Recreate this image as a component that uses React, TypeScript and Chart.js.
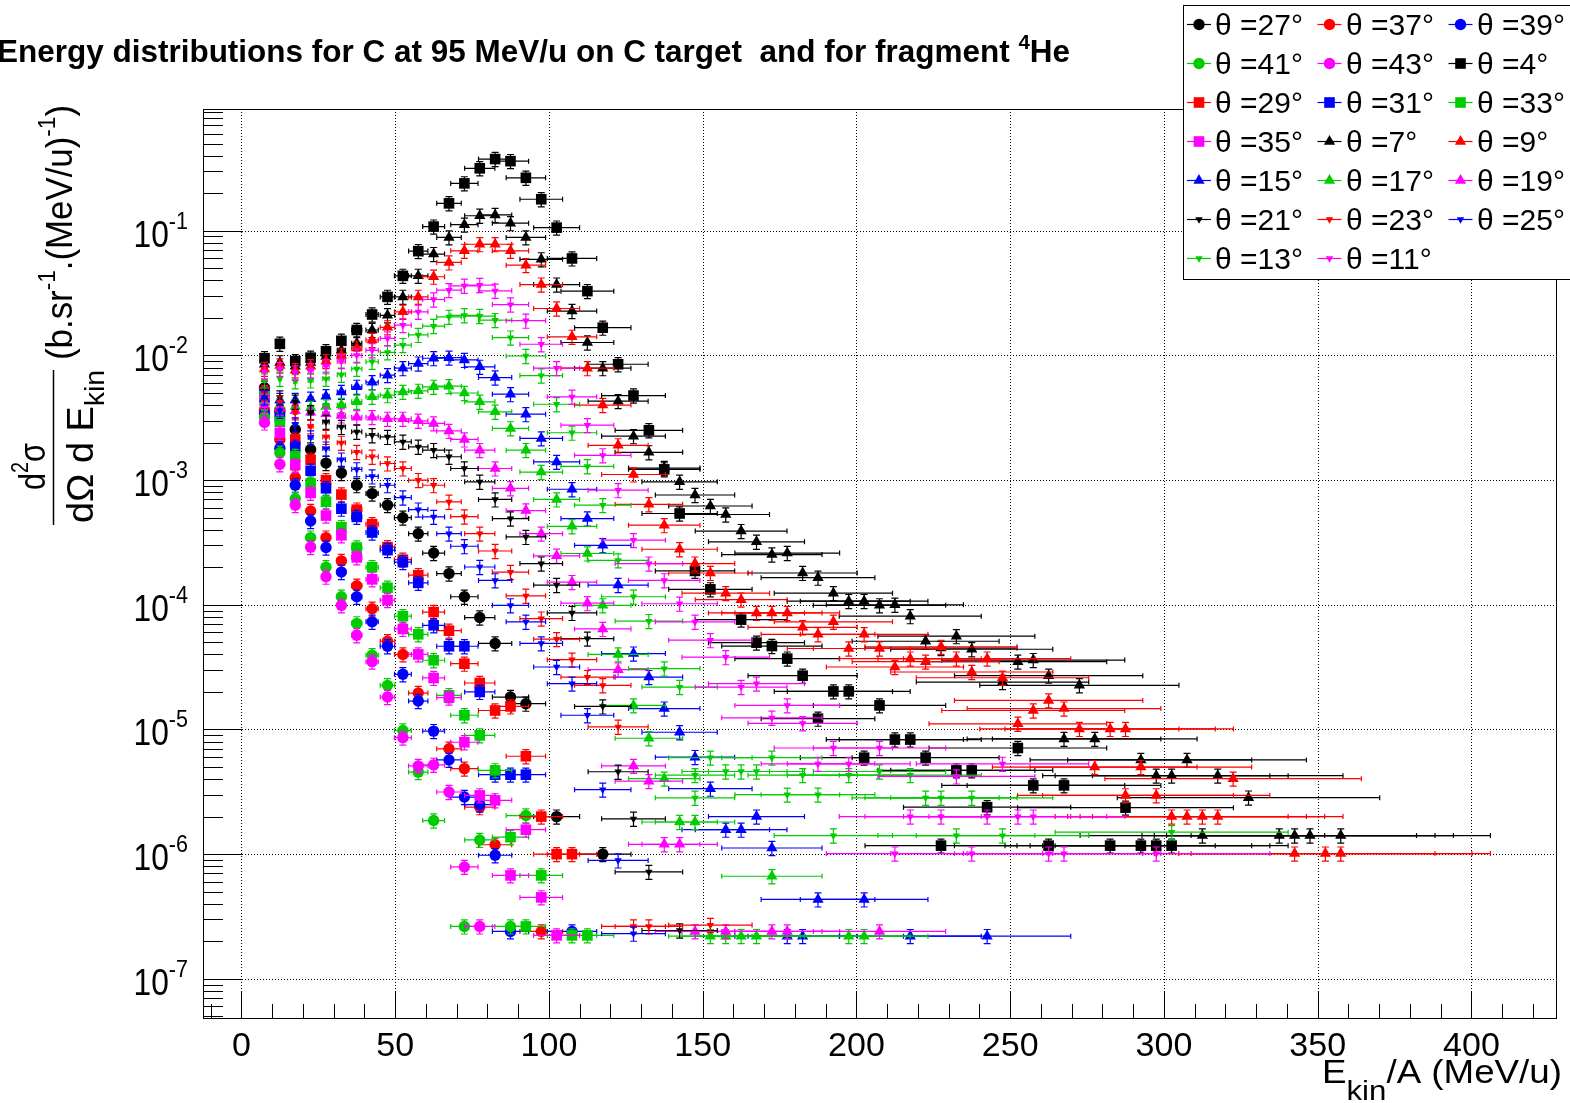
import React, { useEffect, useRef } from "react";
import { Chart, registerables } from "chart.js";

Chart.register(...registerables);

type Pt = [number, number];
type Marker = "circle" | "rect" | "triangle" | "down";

const BLACK = "#000000";
const RED = "#ff0000";
const BLUE = "#0000ff";
const GREEN = "#00cc00";
const MAGENTA = "#ff00ff";

const X_MIN = -12.5;
const X_MAX = 427.5;
const Y_MIN = 4.85e-8;
const Y_MAX = 0.948;

const xTickValues = [0, 50, 100, 150, 200, 250, 300, 350, 400];
const xTickLabels = ["0", "50", "100", "150", "200", "250", "300", "350", "400"];
const yTickExponents = [-7, -6, -5, -4, -3, -2, -1];
const yTickExpLabels = ["-7", "-6", "-5", "-4", "-3", "-2", "-1"];

// energy bin centres (MeV/u) and the half-widths of the horizontal error bars
const energyBinCenters = [
  7.5, 12.5, 17.5, 22.5, 27.5, 32.5, 37.5, 42.5, 47.5, 52.5, 57.5, 62.5, 67.5, 72.5, 77.5, 82.5, 87.5, 92.5,
  97.5, 102.5, 107.5, 112.5, 117.5, 122.5, 127.5, 132.5, 137.5, 142.5, 147.5, 152.5, 157.5, 162.5, 167.5,
  172.5, 177.5, 182.5, 187.5, 192.5, 197.5, 202.5, 207.5, 212.5, 217.5, 222.5, 227.5, 232.5, 237.5, 242.5,
  247.5, 252.5, 257.5, 262.5, 267.5, 272.5, 277.5, 282.5, 287.5, 292.5, 297.5, 302.5, 307.5, 312.5, 317.5,
  322.5, 327.5, 332.5, 337.5, 342.5, 347.5, 352.5, 357.5,
];
const energyHalfWidths = [
  0.15, 0.32, 0.53, 0.77, 1.04, 1.33, 1.65, 2.0, 2.36, 2.74, 3.14, 3.56, 3.99, 4.44, 4.91, 5.4, 5.89, 6.41,
  6.93, 7.47, 8.03, 8.59, 9.17, 9.76, 10.37, 10.98, 11.61, 12.25, 12.9, 13.56, 14.23, 14.92, 15.61,
  16.31, 17.03, 17.75, 18.49, 19.23, 19.98, 20.75, 21.52, 22.3, 23.09, 23.9, 24.71, 25.52, 26.35, 27.19,
  28.03, 28.89, 29.75, 30.62, 31.5, 32.39, 33.28, 34.19, 35.1, 36.02, 36.94, 37.88, 38.82, 39.77, 40.73,
  41.7, 42.67, 43.66, 44.64, 45.64, 46.64, 47.65, 48.67,
];
const yRelativeError = 0.13;

const theta4: Pt[] = [[7.5,9.5e-3],[12.5,1.24e-2],[17.5,9.0e-3],[22.5,9.6e-3],[27.5,1.08e-2],[32.5,1.31e-2],[37.5,1.6e-2],[42.5,2.13e-2],[47.5,2.95e-2],[52.5,4.35e-2],[57.5,6.87e-2],[62.5,0.108],[67.5,0.166],[72.5,0.24],[77.5,0.317],[82.5,0.376],[87.5,0.362],[92.5,0.266],[97.5,0.179],[102.5,0.106],[107.5,0.06],[112.5,3.28e-2],[117.5,1.67e-2],[122.5,8.5e-3],[127.5,4.77e-3],[132.5,2.51e-3],[137.5,1.22e-3],[142.5,5.4e-4],[147.5,1.87e-4],[152.5,1.33e-4],[162.5,7.6e-5],[167.5,4.97e-5],[172.5,4.67e-5],[177.5,3.7e-5],[182.5,2.7e-5],[187.5,1.22e-5],[192.5,2.02e-5],[197.5,2.02e-5],[202.5,5.94e-6],[207.5,1.56e-5],[212.5,8.3e-6],[217.5,8.3e-6],[222.5,5.94e-6],[227.5,1.17e-6],[232.5,4.7e-6],[237.5,4.7e-6],[242.5,2.38e-6],[252.5,7.1e-6],[257.5,3.56e-6],[262.5,1.17e-6],[267.5,3.56e-6],[282.5,1.17e-6],[287.5,2.36e-6],[292.5,1.17e-6],[297.5,1.17e-6],[302.5,1.17e-6]];
const theta7: Pt[] = [[7.5,8.5e-3],[12.5,8.8e-3],[17.5,8.2e-3],[22.5,8.8e-3],[27.5,9.8e-3],[32.5,1.1e-2],[37.5,1.25e-2],[42.5,1.6e-2],[47.5,2.1e-2],[52.5,2.95e-2],[57.5,4.35e-2],[62.5,6.5e-2],[67.5,8.85e-2],[72.5,0.112],[77.5,0.132],[82.5,0.134],[87.5,0.115],[92.5,8.85e-2],[97.5,5.9e-2],[102.5,3.7e-2],[107.5,2.27e-2],[112.5,1.27e-2],[117.5,7.9e-3],[122.5,4.3e-3],[127.5,2.25e-3],[132.5,1.67e-3],[137.5,1.25e-3],[142.5,9.7e-4],[147.5,7.6e-4],[152.5,6.2e-4],[157.5,5.3e-4],[162.5,3.9e-4],[167.5,3.2e-4],[172.5,2.53e-4],[177.5,2.6e-4],[182.5,1.8e-4],[187.5,1.65e-4],[192.5,1.24e-4],[197.5,1.07e-4],[202.5,1.07e-4],[207.5,9.9e-5],[212.5,1.0e-4],[217.5,8.1e-5],[222.5,5.1e-5],[227.5,4.5e-5],[232.5,5.6e-5],[237.5,4.4e-5],[247.5,2.4e-5],[252.5,3.5e-5],[257.5,3.6e-5],[262.5,2.7e-5],[267.5,8.4e-6],[272.5,2.26e-5],[277.5,8.4e-6],[292.5,5.7e-6],[297.5,4.26e-6],[302.5,4.26e-6],[307.5,5.7e-6],[312.5,1.41e-6],[317.5,4.26e-6],[327.5,2.84e-6],[337.5,1.41e-6],[342.5,1.41e-6],[347.5,1.41e-6],[357.5,1.41e-6]];
const theta9: Pt[] = [[7.5,7.8e-3],[12.5,8.3e-3],[17.5,7.6e-3],[22.5,8.2e-3],[27.5,9.0e-3],[32.5,1.0e-2],[37.5,1.15e-2],[42.5,1.33e-2],[47.5,1.68e-2],[52.5,2.24e-2],[57.5,2.95e-2],[62.5,4.28e-2],[67.5,5.57e-2],[72.5,6.9e-2],[77.5,7.8e-2],[82.5,7.8e-2],[87.5,6.9e-2],[92.5,5.3e-2],[97.5,3.7e-2],[102.5,2.38e-2],[107.5,1.41e-2],[112.5,7.9e-3],[117.5,4.0e-3],[122.5,1.9e-3],[127.5,1.11e-3],[132.5,6.4e-4],[137.5,4.35e-4],[142.5,2.79e-4],[147.5,2.14e-4],[152.5,1.8e-4],[157.5,1.24e-4],[162.5,1.1e-4],[167.5,8.6e-5],[172.5,8.6e-5],[177.5,8.6e-5],[182.5,6.6e-5],[187.5,5.8e-5],[192.5,7.3e-5],[197.5,4.46e-5],[202.5,5.8e-5],[207.5,4.46e-5],[212.5,3.17e-5],[217.5,3.7e-5],[222.5,3.5e-5],[227.5,4.6e-5],[232.5,3.7e-5],[237.5,2.89e-5],[242.5,3.7e-5],[247.5,2.6e-5],[252.5,1.11e-5],[257.5,1.42e-5],[262.5,1.71e-5],[267.5,1.47e-5],[272.5,1.01e-5],[277.5,4.99e-6],[282.5,1.01e-5],[287.5,1.01e-5],[287.5,2.96e-6],[292.5,4.99e-6],[297.5,2.96e-6],[302.5,2.0e-6],[307.5,2.0e-6],[312.5,2.0e-6],[317.5,2.0e-6],[322.5,4.03e-6],[342.5,1.01e-6],[352.5,1.01e-6],[357.5,1.01e-6]];
const theta11: Pt[] = [[7.5,7.4e-3],[12.5,7.8e-3],[17.5,7.3e-3],[22.5,7.6e-3],[27.5,8.2e-3],[32.5,9.0e-3],[37.5,1.0e-2],[42.5,1.1e-2],[47.5,1.37e-2],[52.5,1.75e-2],[57.5,2.24e-2],[62.5,2.81e-2],[67.5,3.34e-2],[72.5,3.62e-2],[77.5,3.67e-2],[82.5,3.3e-2],[87.5,2.56e-2],[92.5,1.9e-2],[97.5,1.23e-2],[102.5,7.9e-3],[107.5,4.66e-3],[112.5,2.76e-3],[117.5,1.58e-3],[122.5,8.3e-4],[127.5,3.3e-4],[132.5,2.14e-4],[137.5,1.57e-4],[142.5,1.02e-4],[147.5,7.3e-5],[152.5,5.2e-5],[157.5,3.8e-5],[162.5,2.19e-5],[167.5,2.33e-5],[172.5,1.24e-5],[177.5,1.56e-5],[182.5,1.12e-5],[187.5,5.3e-6],[192.5,7.1e-6],[197.5,5.3e-6],[207.5,7.1e-6],[212.5,1.01e-6],[217.5,2.0e-6],[227.5,2.0e-6],[232.5,4.2e-6],[237.5,1.01e-6],[242.5,2.0e-6],[247.5,5.3e-6],[252.5,2.0e-6],[257.5,2.0e-6],[262.5,1.01e-6],[267.5,1.01e-6],[297.5,1.01e-6]];
const theta13: Pt[] = [[7.5,6.3e-3],[12.5,6.5e-3],[17.5,6.2e-3],[22.5,6.3e-3],[27.5,6.5e-3],[32.5,7.0e-3],[37.5,7.8e-3],[42.5,8.9e-3],[47.5,1.06e-2],[52.5,1.21e-2],[57.5,1.46e-2],[62.5,1.72e-2],[67.5,2.04e-2],[72.5,2.1e-2],[77.5,2.07e-2],[82.5,1.92e-2],[87.5,1.39e-2],[92.5,9.9e-3],[97.5,6.9e-3],[102.5,4.06e-3],[107.5,2.4e-3],[112.5,1.29e-3],[117.5,6.3e-4],[122.5,2.27e-4],[127.5,1.16e-4],[132.5,7.4e-5],[137.5,3.08e-5],[142.5,2.19e-5],[147.5,4.3e-6],[147.5,2.83e-6],[152.5,5.94e-6],[157.5,4.6e-6],[162.5,4.6e-6],[167.5,4.6e-6],[172.5,5.94e-6],[177.5,3.0e-6],[182.5,4.3e-6],[187.5,3.0e-6],[192.5,1.41e-6],[197.5,4.3e-6],[207.5,4.6e-6],[217.5,4.3e-6],[222.5,2.83e-6],[227.5,2.83e-6],[232.5,1.41e-6],[237.5,2.83e-6],[247.5,1.41e-6],[302.5,1.5e-6]];
const theta15: Pt[] = [[7.5,4.5e-3],[12.5,4.4e-3],[17.5,4.4e-3],[22.5,4.5e-3],[27.5,4.7e-3],[32.5,5.1e-3],[37.5,5.6e-3],[42.5,6.1e-3],[47.5,6.95e-3],[52.5,7.9e-3],[57.5,8.6e-3],[62.5,9.5e-3],[67.5,9.6e-3],[72.5,9.2e-3],[77.5,8.1e-3],[82.5,6.65e-3],[87.5,4.89e-3],[92.5,3.38e-3],[97.5,2.16e-3],[102.5,1.4e-3],[107.5,8.45e-4],[112.5,4.92e-4],[117.5,3.0e-4],[122.5,1.44e-4],[127.5,4.06e-5],[132.5,2.63e-5],[137.5,1.47e-5],[142.5,9.5e-6],[147.5,6.0e-6],[152.5,3.35e-6],[157.5,1.57e-6],[162.5,1.57e-6],[167.5,2.0e-6],[172.5,1.12e-6],[177.5,2.2e-7],[182.5,2.2e-7],[187.5,4.33e-7],[202.5,4.33e-7],[217.5,2.2e-7],[242.5,2.2e-7]];
const theta17: Pt[] = [[7.5,4.2e-3],[12.5,4.0e-3],[17.5,3.9e-3],[22.5,3.8e-3],[27.5,3.9e-3],[32.5,4.0e-3],[37.5,4.25e-3],[42.5,4.66e-3],[47.5,4.8e-3],[52.5,5.1e-3],[57.5,5.2e-3],[62.5,5.6e-3],[67.5,5.67e-3],[72.5,5.0e-3],[77.5,4.25e-3],[82.5,3.53e-3],[87.5,2.6e-3],[92.5,1.74e-3],[97.5,1.16e-3],[102.5,7.0e-4],[107.5,4.26e-4],[112.5,2.58e-4],[117.5,9.9e-5],[122.5,4.0e-5],[127.5,1.56e-5],[132.5,8.5e-6],[137.5,4.03e-6],[142.5,1.81e-6],[147.5,1.81e-6],[152.5,2.2e-7],[157.5,2.2e-7],[162.5,2.2e-7],[167.5,2.2e-7],[172.5,6.65e-7],[197.5,2.2e-7],[202.5,2.2e-7]];
const theta19: Pt[] = [[7.5,4.0e-3],[12.5,3.8e-3],[17.5,3.6e-3],[22.5,3.5e-3],[27.5,3.4e-3],[32.5,3.3e-3],[37.5,3.2e-3],[42.5,3.2e-3],[47.5,3.1e-3],[52.5,3.1e-3],[57.5,2.99e-3],[62.5,2.85e-3],[67.5,2.48e-3],[72.5,2.12e-3],[77.5,1.74e-3],[82.5,1.24e-3],[87.5,8.6e-4],[92.5,5.7e-4],[97.5,3.72e-4],[102.5,2.47e-4],[107.5,1.52e-4],[112.5,1.03e-4],[117.5,6.4e-5],[122.5,3.02e-5],[127.5,5.1e-6],[132.5,3.85e-6],[137.5,1.2e-6],[142.5,1.2e-6],[147.5,2.4e-7],[157.5,2.4e-7],[172.5,2.4e-7],[177.5,2.4e-7],[207.5,2.4e-7]];
const theta21: Pt[] = [[7.5,5.2e-3],[12.5,4.6e-3],[17.5,4.25e-3],[22.5,3.5e-3],[27.5,2.93e-3],[32.5,2.67e-3],[37.5,2.44e-3],[42.5,2.29e-3],[47.5,2.22e-3],[52.5,2.03e-3],[57.5,1.85e-3],[62.5,1.74e-3],[67.5,1.54e-3],[72.5,1.24e-3],[77.5,9.7e-4],[82.5,7.0e-4],[87.5,4.92e-4],[92.5,3.5e-4],[97.5,2.14e-4],[102.5,1.44e-4],[107.5,8.6e-5],[112.5,5.35e-5],[117.5,1.53e-5],[122.5,4.58e-6],[127.5,1.92e-6],[132.5,7.2e-7],[142.5,2.44e-7]];
const theta23: Pt[] = [[7.5,5.0e-3],[12.5,4.2e-3],[17.5,3.5e-3],[22.5,2.7e-3],[27.5,2.22e-3],[32.5,1.99e-3],[37.5,1.68e-3],[42.5,1.54e-3],[47.5,1.36e-3],[52.5,1.24e-3],[57.5,1.0e-3],[62.5,9.1e-4],[67.5,6.7e-4],[72.5,5.1e-4],[77.5,3.72e-4],[82.5,2.7e-4],[87.5,1.83e-4],[92.5,1.18e-4],[97.5,7.75e-5],[102.5,5.3e-5],[107.5,3.63e-5],[112.5,2.63e-5],[117.5,2.26e-5],[122.5,1.05e-5],[127.5,2.63e-7],[132.5,2.63e-7],[152.5,2.7e-7]];
const theta25: Pt[] = [[7.5,4.6e-3],[12.5,3.6e-3],[17.5,2.8e-3],[22.5,2.2e-3],[27.5,1.79e-3],[32.5,1.46e-3],[37.5,1.22e-3],[42.5,1.07e-3],[47.5,9.1e-4],[52.5,7.25e-4],[57.5,5.8e-4],[62.5,5.07e-4],[67.5,3.72e-4],[72.5,2.95e-4],[77.5,2.01e-4],[82.5,1.57e-4],[87.5,9.9e-5],[92.5,7.3e-5],[97.5,4.9e-5],[102.5,3.17e-5],[107.5,2.33e-5],[112.5,1.3e-5],[117.5,3.29e-6],[122.5,8.9e-7],[127.5,2.3e-7]];
const theta27: Pt[] = [[7.5,5.5e-3],[12.5,3.6e-3],[17.5,2.55e-3],[22.5,1.76e-3],[27.5,1.37e-3],[32.5,1.14e-3],[37.5,9.1e-4],[42.5,7.8e-4],[47.5,6.3e-4],[52.5,5.0e-4],[57.5,3.72e-4],[62.5,2.6e-4],[67.5,1.78e-4],[72.5,1.16e-4],[77.5,7.9e-5],[82.5,4.9e-5],[87.5,1.82e-5],[92.5,1.61e-5],[102.5,2.0e-6],[117.5,1.0e-6]];
const theta29: Pt[] = [[7.5,5.1e-3],[12.5,3.5e-3],[17.5,2.12e-3],[22.5,1.46e-3],[27.5,1.0e-3],[32.5,7.66e-4],[37.5,5.8e-4],[42.5,4.43e-4],[47.5,2.9e-4],[52.5,2.3e-4],[57.5,1.73e-4],[62.5,8.75e-5],[67.5,6.2e-5],[72.5,3.37e-5],[77.5,2.36e-5],[82.5,1.42e-5],[87.5,1.53e-5],[92.5,6.1e-6],[97.5,2.0e-6],[102.5,1.0e-6],[107.5,1.0e-6]];
const theta31: Pt[] = [[7.5,4.9e-3],[12.5,3.2e-3],[17.5,1.85e-3],[22.5,1.19e-3],[27.5,8.6e-4],[32.5,5.9e-4],[37.5,5.07e-4],[42.5,3.8e-4],[47.5,2.75e-4],[52.5,2.2e-4],[57.5,1.5e-4],[62.5,6.85e-5],[67.5,4.65e-5],[72.5,4.65e-5],[77.5,2.0e-5],[82.5,4.34e-6],[87.5,4.34e-6],[92.5,4.34e-6]];
const theta33: Pt[] = [[7.5,4.7e-3],[12.5,2.93e-3],[17.5,1.56e-3],[22.5,9.4e-4],[27.5,6.7e-4],[32.5,4.2e-4],[37.5,2.88e-4],[42.5,2.0e-4],[47.5,1.37e-4],[52.5,8.1e-5],[57.5,5.8e-5],[62.5,3.59e-5],[67.5,1.88e-5],[72.5,1.3e-5],[77.5,8.97e-6],[82.5,4.7e-6],[87.5,1.37e-6],[92.5,2.63e-7],[97.5,6.75e-7],[107.5,2.23e-7],[112.5,2.23e-7]];
const theta35: Pt[] = [[7.5,4.4e-3],[12.5,2.39e-3],[17.5,1.32e-3],[22.5,7.9e-4],[27.5,5.2e-4],[32.5,3.61e-4],[37.5,2.4e-4],[42.5,1.6e-4],[47.5,1.09e-4],[52.5,6.4e-5],[57.5,4.0e-5],[62.5,2.59e-5],[67.5,1.8e-5],[72.5,7.9e-6],[77.5,2.96e-6],[82.5,2.7e-6],[87.5,6.75e-7],[92.5,1.57e-6],[97.5,4.5e-7],[102.5,2.23e-7]];
const theta37: Pt[] = [[7.5,3.64e-3],[12.5,2.12e-3],[17.5,1.05e-3],[22.5,5.66e-4],[27.5,3.46e-4],[32.5,2.25e-4],[37.5,1.42e-4],[42.5,9.3e-5],[47.5,5.1e-5],[52.5,4.0e-5],[57.5,1.96e-5],[67.5,7.0e-6],[72.5,4.85e-6],[77.5,2.38e-6],[82.5,1.19e-6],[97.5,2.4e-7]];
const theta39: Pt[] = [[7.5,3.4e-3],[12.5,1.8e-3],[17.5,9.1e-4],[22.5,4.7e-4],[27.5,2.88e-4],[32.5,1.83e-4],[37.5,1.16e-4],[42.5,7.3e-5],[47.5,4.65e-5],[52.5,2.77e-5],[57.5,1.69e-5],[62.5,9.7e-6],[67.5,5.7e-6],[72.5,2.87e-6],[77.5,2.5e-6],[82.5,9.8e-7],[87.5,2.4e-7],[107.5,2.4e-7]];
const theta41: Pt[] = [[7.5,3.2e-3],[12.5,1.66e-3],[17.5,7.1e-4],[22.5,3.46e-4],[27.5,2.0e-4],[32.5,1.16e-4],[37.5,7.1e-5],[42.5,3.94e-5],[47.5,2.26e-5],[52.5,9.8e-6],[57.5,4.55e-6],[62.5,1.86e-6],[72.5,2.63e-7],[77.5,1.3e-6],[87.5,2.63e-7],[92.5,2.04e-6]];
const theta43: Pt[] = [[7.5,2.9e-3],[12.5,1.34e-3],[17.5,6.3e-4],[22.5,2.9e-4],[27.5,1.68e-4],[32.5,9.9e-5],[37.5,5.7e-5],[42.5,3.5e-5],[47.5,1.82e-5],[52.5,8.6e-6],[57.5,5.1e-6],[62.5,5.2e-6],[67.5,3.15e-6],[72.5,7.9e-7],[77.5,2.63e-7]];

interface SeriesDef { label: string; data: Pt[]; color: string; marker: Marker }

// legend order (row by row, three columns)
const seriesDefs: SeriesDef[] = [
  { label: "θ =27°", data: theta27, color: BLACK, marker: "circle" },
  { label: "θ =37°", data: theta37, color: RED, marker: "circle" },
  { label: "θ =39°", data: theta39, color: BLUE, marker: "circle" },
  { label: "θ =41°", data: theta41, color: GREEN, marker: "circle" },
  { label: "θ =43°", data: theta43, color: MAGENTA, marker: "circle" },
  { label: "θ =4°", data: theta4, color: BLACK, marker: "rect" },
  { label: "θ =29°", data: theta29, color: RED, marker: "rect" },
  { label: "θ =31°", data: theta31, color: BLUE, marker: "rect" },
  { label: "θ =33°", data: theta33, color: GREEN, marker: "rect" },
  { label: "θ =35°", data: theta35, color: MAGENTA, marker: "rect" },
  { label: "θ =7°", data: theta7, color: BLACK, marker: "triangle" },
  { label: "θ =9°", data: theta9, color: RED, marker: "triangle" },
  { label: "θ =15°", data: theta15, color: BLUE, marker: "triangle" },
  { label: "θ =17°", data: theta17, color: GREEN, marker: "triangle" },
  { label: "θ =19°", data: theta19, color: MAGENTA, marker: "triangle" },
  { label: "θ =21°", data: theta21, color: BLACK, marker: "down" },
  { label: "θ =23°", data: theta23, color: RED, marker: "down" },
  { label: "θ =25°", data: theta25, color: BLUE, marker: "down" },
  { label: "θ =13°", data: theta13, color: GREEN, marker: "down" },
  { label: "θ =11°", data: theta11, color: MAGENTA, marker: "down" },
];

const markerRadius: Record<Marker, number> = { circle: 5.7, rect: 7.5, triangle: 6.5, down: 4.3 };

const FONT = '"Liberation Sans", Arial, Helvetica, sans-serif';

interface Seg { t: string; mode?: "sup" | "sub" }
interface RichOpts {
  x: number; y: number; size: number; bold?: boolean;
  align: "left" | "right" | "center"; width?: number; scaleX?: number;
  smallScale?: number; supRise?: number; subDrop?: number;
}

function drawRich(ctx: CanvasRenderingContext2D, segs: Seg[], o: RichOpts) {
  const small = o.smallScale ?? 0.7;
  const fontFor = (s: Seg) => `${o.bold ? "bold " : ""}${s.mode ? o.size * small : o.size}px ${FONT}`;
  const widths = segs.map((s) => { ctx.font = fontFor(s); return ctx.measureText(s.t).width; });
  const total = widths.reduce((a, b) => a + b, 0);
  const sx = o.width ? o.width / total : (o.scaleX ?? 1);
  const w = total * sx;
  const start = o.align === "left" ? o.x : o.align === "right" ? o.x - w : o.x - w / 2;
  ctx.save();
  ctx.translate(start, o.y);
  ctx.scale(sx, 1);
  ctx.textAlign = "left";
  ctx.textBaseline = "alphabetic";
  let cx = 0;
  segs.forEach((s, i) => {
    ctx.font = fontFor(s);
    const dy = s.mode === "sup" ? -(o.supRise ?? 0.5) * o.size : s.mode === "sub" ? (o.subDrop ?? 0.35) * o.size : 0;
    ctx.fillText(s.t, cx, dy);
    cx += widths[i];
  });
  ctx.restore();
}

function drawMarker(ctx: CanvasRenderingContext2D, m: Marker, x: number, y: number, r: number) {
  ctx.beginPath();
  if (m === "circle") ctx.arc(x, y, r, 0, Math.PI * 2);
  else if (m === "rect") { const s = r * Math.SQRT1_2; ctx.rect(x - s, y - s, 2 * s, 2 * s); }
  else if (m === "triangle") { ctx.moveTo(x, y - r); ctx.lineTo(x + 0.866 * r, y + 0.5 * r); ctx.lineTo(x - 0.866 * r, y + 0.5 * r); }
  else { ctx.moveTo(x, y + r); ctx.lineTo(x + 0.866 * r, y - 0.5 * r); ctx.lineTo(x - 0.866 * r, y - 0.5 * r); }
  ctx.closePath();
  ctx.fill();
}

const halfWidthMap = new Map<number, number>();
energyBinCenters.forEach((c, i) => halfWidthMap.set(c, energyHalfWidths[i]));

const rootStylePlugin = {
  id: "rootStyle",
  beforeDatasetsDraw(chart: any) {
    const { ctx, chartArea: a, scales } = chart;
    ctx.save();
    ctx.strokeStyle = "#000";
    ctx.lineWidth = 1;
    ctx.setLineDash([1, 2]);
    xTickValues.forEach((v) => {
      const x = Math.round(scales.x.getPixelForValue(v)) + 0.5;
      ctx.beginPath(); ctx.moveTo(x, a.top); ctx.lineTo(x, a.bottom); ctx.stroke();
    });
    yTickExponents.forEach((e) => {
      const y = Math.round(scales.y.getPixelForValue(Math.pow(10, e))) + 0.5;
      ctx.beginPath(); ctx.moveTo(a.left, y); ctx.lineTo(a.right, y); ctx.stroke();
    });
    ctx.restore();
  },
  beforeDatasetDraw(chart: any, args: any) {
    const { ctx, chartArea: a, scales } = chart;
    const def = seriesDefs[args.index];
    if (!def) return;
    ctx.save();
    ctx.beginPath();
    ctx.rect(a.left, a.top, a.right - a.left, a.bottom - a.top);
    ctx.clip();
    ctx.strokeStyle = def.color;
    ctx.lineWidth = 1.2;
    ctx.setLineDash([]);
    const capX = 2.5;
    const capY = 3.5;
    def.data.forEach(([xv, yv]) => {
      const px = scales.x.getPixelForValue(xv);
      const py = scales.y.getPixelForValue(yv);
      const ex = halfWidthMap.get(xv) ?? 0;
      const x1 = scales.x.getPixelForValue(xv - ex);
      const x2 = scales.x.getPixelForValue(xv + ex);
      const y1 = scales.y.getPixelForValue(yv * (1 + yRelativeError));
      const y2 = scales.y.getPixelForValue(yv * (1 - yRelativeError));
      ctx.beginPath();
      if (x2 - x1 > 1) {
        ctx.moveTo(x1, py); ctx.lineTo(x2, py);
        ctx.moveTo(x1, py - capX); ctx.lineTo(x1, py + capX);
        ctx.moveTo(x2, py - capX); ctx.lineTo(x2, py + capX);
      }
      ctx.moveTo(px, y1); ctx.lineTo(px, y2);
      ctx.moveTo(px - capY, y1); ctx.lineTo(px + capY, y1);
      ctx.moveTo(px - capY, y2); ctx.lineTo(px + capY, y2);
      ctx.stroke();
    });
    ctx.restore();
  },
  afterDraw(chart: any) {
    const { ctx, chartArea: a, scales } = chart;
    ctx.save();
    ctx.setLineDash([]);
    ctx.strokeStyle = "#000";
    ctx.fillStyle = "#000";
    // frame
    ctx.lineWidth = 1;
    ctx.strokeRect(Math.round(a.left) + 0.5, Math.round(a.top) + 0.5, Math.round(a.right - a.left), Math.round(a.bottom - a.top));
    // x ticks
    ctx.beginPath();
    for (let v = -10; v <= 420; v += 10) {
      const x = Math.round(scales.x.getPixelForValue(v)) + 0.5;
      const len = v % 50 === 0 ? 27 : 14;
      ctx.moveTo(x, a.bottom); ctx.lineTo(x, a.bottom - len);
    }
    // y ticks
    for (let e = -8; e <= 0; e++) {
      for (let m = 1; m <= 9; m++) {
        const v = m * Math.pow(10, e);
        if (v < Y_MIN || v > Y_MAX) continue;
        const y = Math.round(scales.y.getPixelForValue(v)) + 0.5;
        const len = m === 1 ? 40 : 20;
        ctx.moveTo(a.left, y); ctx.lineTo(a.left + len, y);
      }
    }
    ctx.stroke();
    // x tick labels
    xTickValues.forEach((v, i) => {
      drawRich(ctx, [{ t: xTickLabels[i] }], { x: scales.x.getPixelForValue(v), y: 1056, size: 34, align: "center" });
    });
    // y tick labels
    yTickExponents.forEach((e, i) => {
      const y = scales.y.getPixelForValue(Math.pow(10, e));
      drawRich(ctx, [{ t: "10" }, { t: yTickExpLabels[i], mode: "sup" }], {
        x: 188, y: y + 16, size: 36, align: "right", scaleX: 0.88, smallScale: 0.68, supRise: 0.5,
      });
    });
    // x axis title
    drawRich(ctx, [{ t: "E" }, { t: "kin", mode: "sub" }, { t: "/A (MeV/u)" }], {
      x: 1562, y: 1083, size: 33, align: "right", width: 240, smallScale: 0.85, subDrop: 0.5,
    });
    // y axis title (rotated)
    ctx.save();
    ctx.rotate(-Math.PI / 2);
    drawRich(ctx, [{ t: "d" }, { t: "2", mode: "sup" }, { t: "σ" }], {
      x: -466.5, y: 45, size: 37, align: "center", width: 47, smallScale: 0.65, supRise: 0.45,
    });
    drawRich(ctx, [{ t: "dΩ d E" }, { t: "kin", mode: "sub" }], {
      x: -446.5, y: 93, size: 37, align: "center", width: 153, smallScale: 0.75, subDrop: 0.3,
    });
    drawRich(ctx, [{ t: "(b.sr" }, { t: "-1", mode: "sup" }, { t: ".(MeV/u)" }, { t: "-1", mode: "sup" }, { t: ")" }], {
      x: -360, y: 72, size: 37, align: "left", width: 255, smallScale: 0.65, supRise: 0.45,
    });
    ctx.restore();
    ctx.lineWidth = 1.5;
    ctx.beginPath(); ctx.moveTo(53.5, 370); ctx.lineTo(53.5, 525); ctx.stroke();
    // title
    drawRich(ctx, [{ t: "Energy distributions for C at 95 MeV/u on C target  and for fragment " }, { t: "4", mode: "sup" }, { t: "He" }], {
      x: -3, y: 61.5, size: 30.5, bold: true, align: "left", width: 1073, smallScale: 0.65, supRise: 0.42,
    });
    // legend
    ctx.fillStyle = "#fff";
    ctx.fillRect(1183.5, 5.5, 420, 274);
    ctx.strokeStyle = "#000";
    ctx.lineWidth = 1;
    ctx.strokeRect(1183.5, 5.5, 420, 274);
    const colMarker = [1199, 1329.5, 1460.5];
    const colText = [1215, 1346, 1477];
    seriesDefs.forEach((s, i) => {
      const r = Math.floor(i / 3);
      const c = i % 3;
      const ry = 24.5 + 39 * r;
      ctx.strokeStyle = s.color;
      ctx.fillStyle = s.color;
      ctx.lineWidth = 1.2;
      ctx.beginPath(); ctx.moveTo(colMarker[c] - 12, ry); ctx.lineTo(colMarker[c] + 12, ry); ctx.stroke();
      drawMarker(ctx, s.marker, colMarker[c], ry, markerRadius[s.marker]);
      ctx.fillStyle = "#000";
      drawRich(ctx, [{ t: s.label }], { x: colText[c], y: ry + 10.5, size: 30, align: "left" });
    });
    ctx.restore();
  },
};

export default function App() {
  const ref = useRef<HTMLCanvasElement>(null);
  useEffect(() => {
    const canvas = ref.current;
    if (!canvas) return;
    const n = seriesDefs.length;
    const chart = new Chart(canvas, {
      type: "scatter",
      data: {
        datasets: seriesDefs.map((s, i) => ({
          label: s.label,
          data: s.data.map(([x, y]) => ({ x, y })),
          pointStyle: s.marker === "down" ? "triangle" : s.marker,
          pointRotation: s.marker === "down" ? 180 : 0,
          pointRadius: markerRadius[s.marker],
          pointHoverRadius: markerRadius[s.marker],
          backgroundColor: s.color,
          borderColor: s.color,
          borderWidth: 0,
          pointBorderWidth: 0,
          showLine: false,
          order: n - i,
        })),
      },
      options: {
        animation: false,
        responsive: false,
        maintainAspectRatio: false,
        devicePixelRatio: 1,
        events: [],
        layout: { padding: { left: 203, top: 109, right: 14, bottom: 85 } },
        scales: {
          x: { type: "linear", min: X_MIN, max: X_MAX, display: false },
          y: { type: "logarithmic", min: Y_MIN, max: Y_MAX, display: false },
        },
        plugins: {
          legend: { display: false },
          tooltip: { enabled: false },
          title: { display: false },
        },
      } as any,
      plugins: [rootStylePlugin as any],
    });
    return () => chart.destroy();
  }, []);
  return (
    <div style={{ position: "fixed", left: 0, top: 0, width: 1570, height: 1103, background: "#ffffff" }}>
      <canvas ref={ref} width={1570} height={1103} style={{ width: 1570, height: 1103, display: "block" }} />
    </div>
  );
}
